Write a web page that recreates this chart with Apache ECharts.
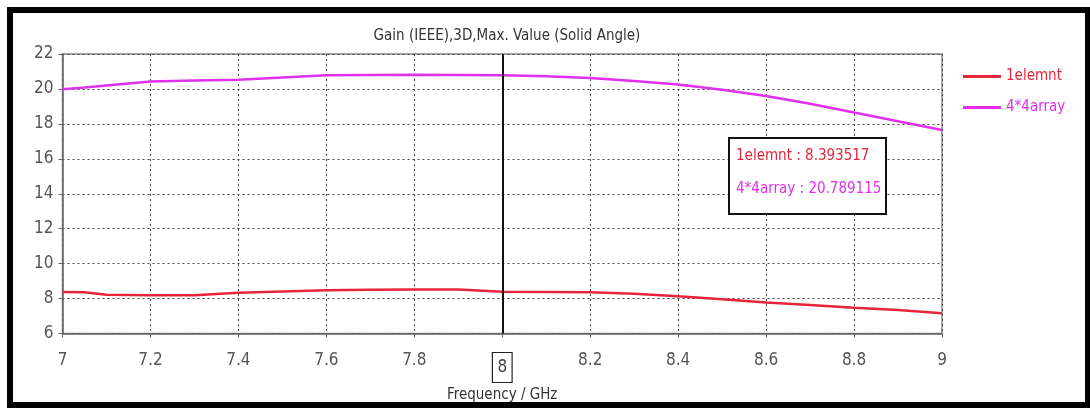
<!DOCTYPE html>
<html>
<head>
<meta charset="utf-8">
<script src="https://cdn.jsdelivr.net/npm/echarts@6/dist/echarts.min.js"></script>
<style>
html,body{margin:0;padding:0;background:#fff;}
#chart{width:1090px;height:408px;}
</style>
</head>
<body>
<div id="chart"></div>
<script>
var titleText = 'Gain (IEEE),3D,Max. Value (Solid Angle)';
var xTitle = 'Frequency / GHz';
var seriesNames = ['1elemnt', '4*4array'];
var freq = [7.0, 7.05, 7.1, 7.2, 7.3, 7.4, 7.5, 7.6, 7.7, 7.8, 7.9, 8.0, 8.1, 8.2, 8.3, 8.4, 8.5, 8.6, 8.7, 8.8, 8.9, 9.0];
var gain1 = [8.37, 8.36, 8.22, 8.19, 8.19, 8.33, 8.41, 8.48, 8.5, 8.52, 8.52, 8.393517, 8.38, 8.36, 8.28, 8.13, 7.96, 7.78, 7.63, 7.48, 7.35, 7.16];
var gain16 = [19.98, 20.08, 20.2, 20.42, 20.48, 20.52, 20.65, 20.78, 20.8, 20.81, 20.8, 20.789115, 20.72, 20.62, 20.45, 20.25, 19.95, 19.6, 19.15, 18.65, 18.15, 17.65];
var markerFreq = 8;
var markerTexts = ['1elemnt : 8.393517', '4*4array : 20.789115'];
var colors = ['#e8243a', '#e030ee'];
var FONT = "'Liberation Sans Narrow','DejaVu Sans Condensed','Liberation Sans',sans-serif";

function pairs(xs, ys){ return xs.map(function(x,i){ return [x, ys[i]]; }); }

var chart = echarts.init(document.getElementById('chart'), null, {renderer:'canvas'});
chart.setOption({
  backgroundColor: '#ffffff',
  animation: false,
  title: {
    text: titleText, left: 502, top: 24, textAlign: 'center',
    textStyle: {fontFamily: FONT, fontSize: 15, fontWeight: 'normal', color: '#333'}
  },
  legend: {
    orient: 'vertical', left: 958, top: 64, itemGap: 16,
    itemWidth: 38, itemHeight: 3, icon: 'rect',
    data: [
      {name: seriesNames[0], textStyle: {color: colors[0]}},
      {name: seriesNames[1], textStyle: {color: colors[1]}}
    ],
    textStyle: {fontFamily: FONT, fontSize: 15}
  },
  grid: {left: 62.5, right: 148, top: 54, bottom: 72, show: true, borderColor: '#888', borderWidth: 1.5, backgroundColor: '#fff'},
  xAxis: {
    type: 'value', min: 7, max: 9, interval: 0.2,
    name: xTitle, nameLocation: 'middle', nameGap: 46,
    nameTextStyle: {fontFamily: FONT, fontSize: 15, color: '#333'},
    axisLine: {lineStyle: {color: '#666', width: 1.5}},
    axisTick: {show: true, length: 4, lineStyle: {color: '#666'}},
    axisLabel: {
      margin: 19, fontFamily: FONT, fontSize: 17, color: '#555',
      formatter: function(v){
        var s = String(parseFloat(v.toFixed(1)));
        if (Math.abs(v - markerFreq) < 1e-6) return '{box|' + s + '}';
        return s;
      },
      rich: {box: {fontFamily: FONT, fontSize: 17, color: '#444', borderColor: '#222', borderWidth: 1.2, padding: [7, 5, 6, 5]}}
    },
    splitLine: {show: true, lineStyle: {color: '#444', type: [2, 3], width: 1}}
  },
  yAxis: {
    type: 'value', min: 6, max: 22, interval: 2,
    axisLine: {show: true, lineStyle: {color: '#666', width: 1.5}},
    axisTick: {show: true, length: 4, lineStyle: {color: '#666'}},
    axisLabel: {margin: 9, fontFamily: FONT, fontSize: 17, color: '#555'},
    splitLine: {show: true, lineStyle: {color: '#444', type: [2, 3], width: 1}}
  },
  series: [
    {
      name: seriesNames[0], type: 'line', data: pairs(freq, gain1),
      showSymbol: false, symbol: 'none', color: colors[0],
      lineStyle: {width: 2.5, color: colors[0]},
      markLine: {
        silent: true, symbol: 'none', label: {show: false},
        lineStyle: {color: '#111', width: 2, type: 'solid'},
        data: [{xAxis: markerFreq}]
      }
    },
    {
      name: seriesNames[1], type: 'line', data: pairs(freq, gain16),
      showSymbol: false, symbol: 'none', color: colors[1],
      lineStyle: {width: 2.5, color: colors[1]}
    }
  ],
  graphic: [
    {type: 'rect', left: 7, top: 7, shape: {width: 1078, height: 395},
     style: {fill: 'none', stroke: '#000', lineWidth: 6}, z: 100},
    {type: 'rect', left: 728, top: 137, z: 50, shape: {width: 157, height: 76},
     style: {fill: '#ffffff', stroke: '#111', lineWidth: 2}},
    {type: 'text', left: 736, top: 149, z: 51, style: {text: markerTexts[0], fill: colors[0], font: '15px ' + FONT}},
    {type: 'text', left: 736, top: 182, z: 51, style: {text: markerTexts[1], fill: colors[1], font: '15px ' + FONT}}
  ]
});
</script>
</body>
</html>
